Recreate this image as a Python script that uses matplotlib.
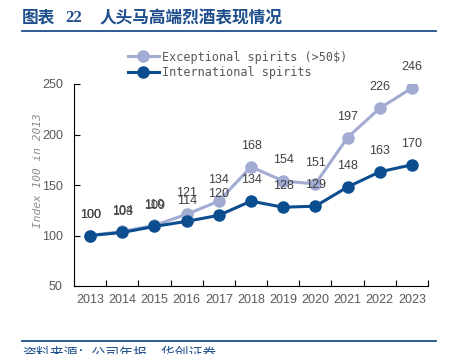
import matplotlib
matplotlib.use("Agg")
import matplotlib.pyplot as plt
from matplotlib.lines import Line2D

plt.rcParams['font.family'] = ['Liberation Sans', 'Noto Sans CJK SC', 'DejaVu Sans']

# 数据
years = ['2013', '2014', '2015', '2016', '2017', '2018', '2019', '2020', '2021', '2022', '2023']
exceptional = [100, 104, 110, 121, 134, 168, 154, 151, 197, 226, 246]
international = [100, 103, 109, 114, 120, 134, 128, 129, 148, 163, 170]

c_exc = '#A2ACD3'
c_int = '#0B4D8E'
c_title = '#1F4E8C'
c_text = '#404040'
cjk = ['Noto Sans CJK SC', 'DejaVu Sans']

fig = plt.figure(figsize=(4.53, 3.54), dpi=100)
ax = fig.add_axes([74 / 453, 1 - 286 / 354, (428 - 74) / 453, (286 - 84) / 354])

x = list(range(len(years)))
ax.plot(x, exceptional, color=c_exc, lw=2.2, marker='o', ms=8, zorder=2)
ax.plot(x, international, color=c_int, lw=2.2, marker='o', ms=8, zorder=3)

for xi, v in zip(x, exceptional):
    ax.annotate(str(v), (xi, v), xytext=(0, 15), textcoords='offset points',
                ha='center', va='center', fontsize=9, color=c_text, annotation_clip=False)
for xi, v in zip(x, international):
    ax.annotate(str(v), (xi, v), xytext=(0, 15), textcoords='offset points',
                ha='center', va='center', fontsize=9, color=c_text, annotation_clip=False)

ax.set_xlim(-0.5, len(years) - 0.5)
ax.set_ylim(50, 250)
ax.set_yticks([50, 100, 150, 200, 250])
ax.set_xticks([i - 0.5 for i in range(len(years) + 1)])
ax.set_xticklabels([])
ax.set_xticks(x, minor=True)
ax.set_xticklabels(years, minor=True)
ax.tick_params(axis='x', which='major', direction='in', length=4, width=0.8)
ax.tick_params(axis='x', which='minor', length=0, pad=6, labelsize=9, labelcolor='#595959')
ax.tick_params(axis='y', direction='in', length=4, width=0.8, labelsize=9, labelcolor='#595959', pad=8)
for s in ['top', 'right']:
    ax.spines[s].set_visible(False)
for s in ['left', 'bottom']:
    ax.spines[s].set_linewidth(0.8)

# 图例
handles = [Line2D([], [], color=c_exc, lw=2.2, marker='o', ms=8),
           Line2D([], [], color=c_int, lw=2.2, marker='o', ms=8)]
fig.legend(handles, ['Exceptional spirits (>50$)', 'International spirits'],
           loc='center left', bbox_to_anchor=(122 / 453, 1 - 65 / 354), frameon=False,
           prop={'family': 'DejaVu Sans Mono', 'size': 8.5}, labelcolor='#595959',
           handlelength=2.6, handletextpad=0.3, labelspacing=0.25, borderpad=0)

fig.text(38 / 453, 1 - 171 / 354, 'Index 100 in 2013', rotation=90, ha='center', va='center',
         fontsize=8, color='#8C8C8C', family='DejaVu Sans Mono', style='italic')

# 标题与来源
ty = 1 - 18 / 354
fig.text(22 / 453, ty, '图表', ha='left', va='center', fontsize=12, fontweight='bold',
         color=c_title, family=cjk)
fig.text(65 / 453, ty, '22', ha='left', va='center', fontsize=12, fontweight='bold',
         color=c_title, family='Liberation Serif')
fig.text(100 / 453, ty, '人头马高端烈酒表现情况', ha='left', va='center', fontsize=12,
         fontweight='bold', color=c_title, family=cjk)
fig.add_artist(Line2D([22 / 453, 436 / 453], [1 - 31 / 354, 1 - 31 / 354], color=c_title, lw=1.3))
fig.add_artist(Line2D([22 / 453, 436 / 453], [1 - 341 / 354, 1 - 341 / 354], color=c_title, lw=1.3))
fig.text(22 / 453, 1 - 353 / 354, '资料来源：公司年报，华创证券', ha='left', va='center',
         fontsize=10, style='italic', color=c_title, family=cjk)

fig.savefig('out.png', dpi=100)
